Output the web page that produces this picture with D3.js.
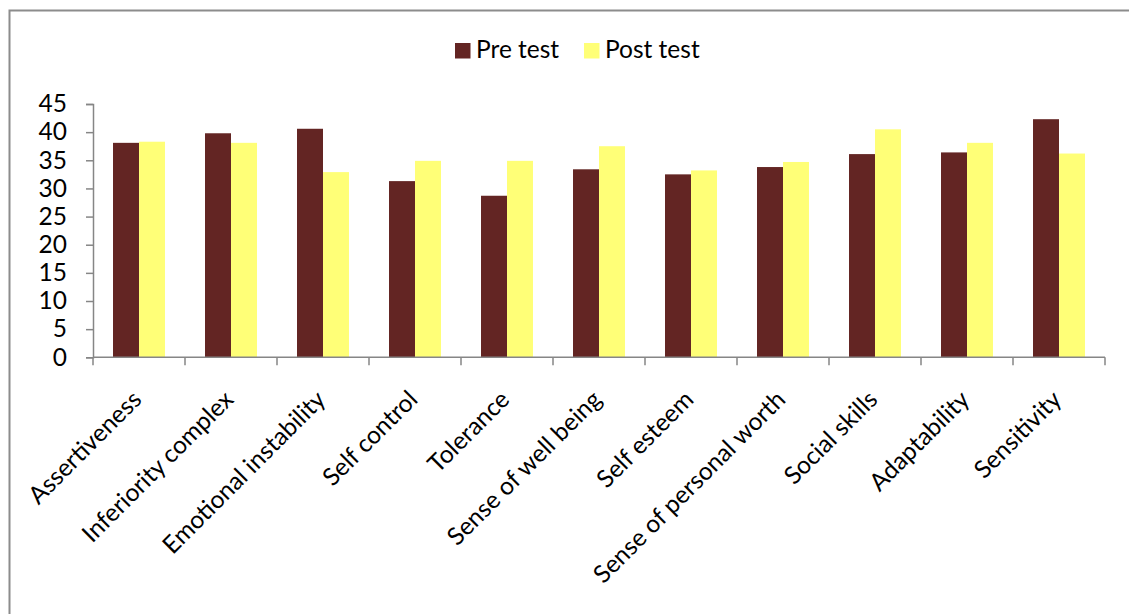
<!DOCTYPE html>
<html>
<head>
<meta charset="utf-8">
<script src="https://cdn.jsdelivr.net/npm/d3@7"></script>
<style>
  html, body { margin: 0; padding: 0; background: #fff; }
  svg { display: block; }
  text { font-family: Lato, "Open Sans", sans-serif; fill: #000; }
</style>
</head>
<body>
<svg id="chart" width="1129" height="614"></svg>
<script>
const categories = ["Assertiveness", "Inferiority complex", "Emotional instability", "Self control",
  "Tolerance", "Sense of well being", "Self esteem", "Sense of personal worth",
  "Social skills", "Adaptability", "Sensitivity"];
const seriesNames = ["Pre test", "Post test"];
const preTest  = [38.1, 39.8, 40.6, 31.3, 28.7, 33.4, 32.5, 33.8, 36.1, 36.4, 42.3];
const postTest = [38.3, 38.1, 32.9, 34.9, 34.9, 37.5, 33.2, 34.7, 40.5, 38.1, 36.2];
const yTicks = [0, 5, 10, 15, 20, 25, 30, 35, 40, 45];
const colors = ["#632523", "#FFFF77"];

const svg = d3.select("#chart");
const W = 1129, H = 614;
const fontSize = 24.5;

// outer border
svg.append("rect").attr("x", 9.5).attr("y", 10.5).attr("width", W + 10).attr("height", H + 10)
  .attr("fill", "none").attr("stroke", "#8c8c8c").attr("stroke-width", 2);

const x0 = d3.scaleBand().domain(categories).range([93, 1105]).paddingInner(0).paddingOuter(0);
const bw = x0.bandwidth();
const x1 = d3.scaleBand().domain(seriesNames).range([0, bw]).paddingInner(0).paddingOuter(0.77);
const y = d3.scaleLinear().domain([0, 45]).range([357.3, 104]);

const data = categories.map((c, i) => ({cat: c, vals: [preTest[i], postTest[i]]}));

const g = svg.append("g");
const groups = g.selectAll("g.cat").data(data).join("g")
  .attr("transform", d => `translate(${x0(d.cat)},0)`);
groups.selectAll("rect").data(d => d.vals.map((v, k) => ({name: seriesNames[k], v, k})))
  .join("rect")
  .attr("x", d => x1(d.name))
  .attr("width", x1.bandwidth())
  .attr("y", d => y(d.v))
  .attr("height", d => y(0) - y(d.v))
  .attr("fill", d => colors[d.k]);

// y axis
const yAxis = d3.axisLeft(y).tickValues(yTicks).tickSize(7).tickPadding(19).tickFormat(d3.format("d"));
const ya = svg.append("g").attr("transform", "translate(93,0)").call(yAxis);
ya.select(".domain").attr("stroke", "#868686").attr("stroke-width", 1.5);
ya.selectAll(".tick line").attr("stroke", "#868686").attr("stroke-width", 1.5);
ya.selectAll(".tick text").attr("font-size", fontSize).attr("font-family", "Lato, 'Open Sans', sans-serif").attr("fill", "#000");

// x axis: line + ticks at band boundaries
const xa = svg.append("g");
xa.append("line").attr("x1", 93).attr("x2", 1105).attr("y1", y(0)).attr("y2", y(0))
  .attr("stroke", "#868686").attr("stroke-width", 1.5);
const bounds = categories.map(c => x0(c)).concat([x0(categories[categories.length - 1]) + bw]);
xa.selectAll("line.tk").data(bounds).join("line").attr("class", "tk")
  .attr("x1", d => d).attr("x2", d => d).attr("y1", y(0)).attr("y2", y(0) + 8)
  .attr("stroke", "#868686").attr("stroke-width", 1.5);
xa.selectAll("text.lbl").data(categories).join("text").attr("class", "lbl")
  .attr("text-anchor", "end")
  .attr("font-size", fontSize)
  .attr("transform", d => `translate(${x0(d) + bw / 2 + 4},401) rotate(-45)`)
  .text(d => d);

// legend
const legX = [455, 584];
const leg = svg.append("g");
seriesNames.forEach((n, i) => {
  leg.append("rect").attr("x", legX[i]).attr("y", 43).attr("width", 15.5).attr("height", 15.5).attr("fill", colors[i]);
  leg.append("text").attr("x", legX[i] + 21).attr("y", 58.3).attr("font-size", fontSize).text(n);
});
</script>
</body>
</html>
